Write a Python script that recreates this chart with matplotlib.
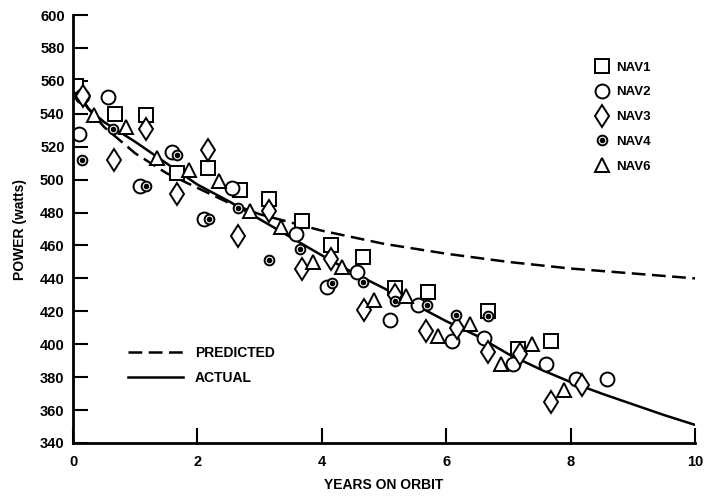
import matplotlib
matplotlib.use("Agg")
import matplotlib.pyplot as plt
from matplotlib.legend_handler import HandlerTuple

plt.rcParams['font.family'] = ['Liberation Sans', 'DejaVu Sans']

# satellite measurements (years, watts)
nav1_x = [0.05, 0.68, 1.17, 1.67, 2.17, 2.68, 3.15, 3.68, 4.15, 4.67, 5.17, 5.70, 6.67, 7.15, 7.68]
nav1_y = [557, 540, 539, 504, 507, 494, 488, 475, 460, 453, 434, 432, 420, 397, 402]

nav2_x = [0.14, 0.57, 0.10, 1.08, 1.59, 2.55, 2.10, 3.59, 4.08, 4.56, 5.09, 5.55, 6.10, 6.60, 7.08, 7.60, 8.08, 8.59]
nav2_y = [551, 550, 528, 496, 517, 495, 476, 467, 435, 444, 415, 424, 402, 404, 388, 388, 379, 379]

nav3_x = [0.16, 1.17, 0.66, 2.17, 1.68, 3.15, 2.66, 4.15, 3.68, 5.17, 4.68, 5.68, 6.17, 6.67, 7.19, 7.68, 8.19]
nav3_y = [551, 531, 512, 518, 491, 481, 466, 452, 446, 430, 421, 408, 410, 395, 394, 365, 375]

nav4_x = [0.14, 0.64, 1.18, 1.67, 2.18, 2.66, 3.15, 3.65, 4.16, 4.66, 5.18, 5.69, 6.16, 6.67]
nav4_y = [512, 531, 496, 515, 476, 483, 451, 458, 437, 438, 426, 424, 418, 417]

nav6_x = [0.33, 0.86, 1.35, 1.87, 2.35, 2.85, 3.35, 3.86, 4.33, 4.84, 5.36, 5.87, 6.38, 6.88, 7.38, 7.89]
nav6_y = [539, 532, 513, 506, 499, 481, 471, 450, 447, 427, 429, 405, 412, 388, 400, 372]

# curves
curve_x = [0, 0.25, 0.5, 1.0, 1.5, 2.0, 2.5, 3.0, 3.5, 4.0, 4.5, 5.0, 5.5, 6.0, 6.5, 7.0, 7.5, 8.0, 8.5, 9.0, 9.5, 10.0]
predicted = [556, 543, 532, 516, 504, 495, 486, 479, 474, 469, 465, 461, 458, 455, 452.5, 450, 448, 446, 444.5, 443, 441.5, 440]
actual = [558, 543, 535, 523, 510, 497, 487, 476, 465, 454, 443.5, 434, 424, 414, 405, 394, 385, 377, 370, 363.5, 357, 351]

fig = plt.figure(figsize=(7.06, 4.97), dpi=100)
ax = fig.add_axes([0.1034, 0.1087, 0.881, 0.861])

lw = 1.8
pred_line, = ax.plot(curve_x, predicted, color='black', lw=lw, linestyle=(0, (5.5, 2.6)))
act_line, = ax.plot(curve_x, actual, color='black', lw=lw)

mk = dict(linestyle='none', markerfacecolor='white', markeredgecolor='black', markeredgewidth=1.4)
h1, = ax.plot(nav1_x, nav1_y, marker='s', markersize=9.5, **mk)
h2, = ax.plot(nav2_x, nav2_y, marker='o', markersize=10, **mk)
h3, = ax.plot(nav3_x, nav3_y, marker='d', markersize=11.5, **mk)
h4a, = ax.plot(nav4_x, nav4_y, marker='o', markersize=7, **mk)
h4b, = ax.plot(nav4_x, nav4_y, marker='o', markersize=3, linestyle='none', color='black')
h6, = ax.plot(nav6_x, nav6_y, marker='^', markersize=10.5, **mk)

ax.set_xlim(0, 10)
ax.set_ylim(340, 600)
ax.set_xticks([0, 2, 4, 6, 8, 10])
ax.set_yticks(range(340, 601, 20))
ax.spines['top'].set_visible(False)
ax.spines['right'].set_visible(False)
for s in ('left', 'bottom'):
    ax.spines[s].set_linewidth(2)
ax.tick_params(direction='in', length=11, width=1.5, labelsize=10.5, pad=6)
ax.tick_params(axis='x', pad=9)
for lab in ax.get_xticklabels() + ax.get_yticklabels():
    lab.set_fontweight('bold')

ax.set_xlabel('YEARS ON ORBIT', fontsize=10, fontweight='semibold', labelpad=6)
ax.set_ylabel('POWER (watts)', fontsize=10, fontweight='bold', labelpad=9)

leg1 = ax.legend([h1, h2, h3, (h4a, h4b), h6], ['NAV1', 'NAV2', 'NAV3', 'NAV4', 'NAV6'],
                 loc='upper left', bbox_to_anchor=(0.830, 0.907), frameon=False,
                 handlelength=1.0, handletextpad=0.55, labelspacing=0.95, borderpad=0,
                 prop={'weight': 'bold', 'size': 9.5},
                 handler_map={tuple: HandlerTuple(ndivide=1, pad=0)})
ax.add_artist(leg1)
ax.legend([pred_line, act_line], ['PREDICTED', 'ACTUAL'], loc='upper left',
          bbox_to_anchor=(0.078, 0.243), frameon=False, handlelength=3.9,
          handletextpad=0.9, labelspacing=0.8, borderpad=0,
          prop={'weight': 'bold', 'size': 10})

fig.savefig('out.png', dpi=100)
